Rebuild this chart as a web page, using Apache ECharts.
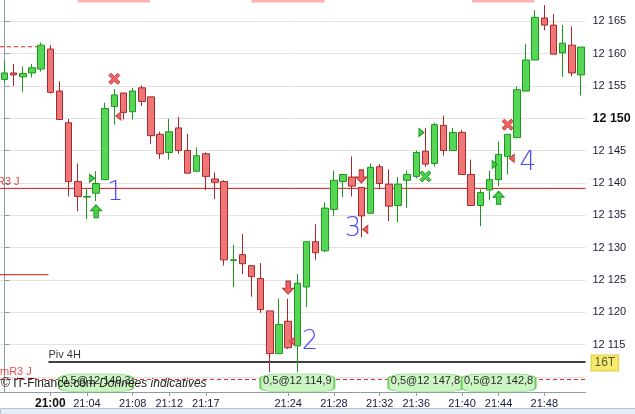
<!DOCTYPE html>
<html><head><meta charset="utf-8">
<script src="https://cdn.jsdelivr.net/npm/echarts@6/dist/echarts.min.js"></script>
<style>html,body{margin:0;padding:0;background:#fff;overflow:hidden}#c{width:635px;height:414px}</style>
</head><body><div id="c"></div>
<script>
// ---------- data ----------
const categories = Array.from({length: 64}, (_, i) => String(i));
const opens  = [12156.0,12157.0,12156.4,12157.0,12157.6,12160.7,12154.2,12149.3,12140.2,12137.8,
                12138.4,12140.5,12151.8,12153.9,12151.0,12154.7,12153.3,12147.5,12144.7,12148.5,
                12145.0,12141.8,12144.5,12140.6,12140.2,12128.0,12128.9,12127.2,12125.2,12120.2,
                12113.6,12118.6,12114.8,12123.9,12130.9,12129.5,12135.9,12140.2,12140.9,12139.3,
                12135.3,12142.5,12139.8,12136.5,12140.4,12141.0,12144.9,12143.0,12148.9,12145.0,
                12147.8,12141.3,12136.5,12138.9,12140.5,12144.1,12147.0,12154.2,12159.0,12165.5,
                12164.4,12160.1,12161.3,12156.7];
const closes = [12157.0,12156.7,12156.9,12157.8,12161.3,12154.0,12149.8,12140.2,12137.9,12137.9,
                12139.9,12151.5,12153.6,12150.9,12154.2,12152.6,12147.3,12144.5,12147.9,12145.0,
                12141.5,12144.2,12141.0,12140.1,12128.1,12128.1,12127.5,12125.5,12120.4,12113.6,
                12118.1,12114.5,12124.5,12130.9,12129.2,12136.1,12140.4,12141.3,12139.5,12134.9,
                12142.4,12139.9,12136.4,12139.8,12141.3,12144.7,12142.9,12149.0,12145.0,12147.8,
                12141.3,12136.5,12138.5,12140.5,12144.4,12147.5,12154.4,12159.0,12165.6,12164.4,
                12159.9,12161.6,12157.0,12161.0];
const lows   = [12155.5,12155.0,12154.1,12156.3,12157.2,12153.8,12149.8,12137.9,12135.6,12134.4,
                12137.2,12140.5,12149.0,12149.8,12149.8,12151.9,12146.0,12143.7,12143.6,12144.5,
                12141.5,12141.8,12138.9,12137.5,12127.2,12123.9,12125.9,12122.4,12119.9,12110.7,
                12113.5,12114.3,12110.7,12120.8,12128.1,12129.3,12134.9,12137.8,12137.9,12131.6,
                12135.2,12139.0,12134.1,12133.9,12136.1,12140.7,12142.5,12142.5,12144.2,12145.0,
                12141.3,12136.5,12133.3,12137.3,12139.5,12141.3,12146.9,12154.2,12159.0,12163.6,
                12159.9,12156.4,12156.5,12153.5];
const highs  = [12158.9,12158.4,12158.0,12158.4,12161.7,12161.3,12155.7,12149.9,12143.0,12139.2,
                12141.8,12152.4,12154.5,12153.9,12154.7,12155.1,12153.3,12147.9,12149.9,12150.2,
                12147.6,12145.5,12144.7,12141.6,12140.4,12130.4,12132.1,12127.2,12127.6,12120.2,
                12122.1,12122.1,12125.9,12130.9,12133.6,12137.0,12141.9,12141.3,12144.1,12139.3,
                12143.0,12142.9,12142.1,12140.9,12141.9,12145.0,12148.5,12149.3,12150.4,12148.5,
                12148.2,12143.6,12139.0,12141.9,12146.4,12147.5,12154.9,12161.5,12166.7,12167.5,
                12166.1,12164.4,12164.2,12161.0];

const timeTickIndex = [5, 9, 14, 18, 22, 31, 36, 41, 45, 50, 54, 59];
const timeTickText  = ['21:00','21:04','21:08','21:12','21:17','21:24','21:28','21:32','21:36','21:40','21:44','21:48'];
const priceTicks  = [12110, 12115, 12120, 12125, 12130, 12135, 12140, 12145, 12150, 12155, 12160, 12165];
const priceLabels = [12115, 12120, 12125, 12130, 12135, 12140, 12145, 12150, 12155, 12160, 12165];

const redCrossIdx = [12, 55],   redCrossPrice = [12156.1, 12149.0];
const greenCrossIdx = [46],     greenCrossPrice = [12141.0];
const upArrowIdx = [10, 54],    upArrowPrice = [12135.6, 12137.7];
const downArrowIdx = [31, 39],  downArrowPrice = [12123.8, 12141.0];
const entryIdx = [10, 46, 54],  entryPrice = [12140.7, 12147.8, 12142.85];
const exitIdx = [12, 31, 39, 55], exitPrice = [12150.35, 12115.5, 12132.8, 12143.8];

const tradeIdx  = [10, 32, 46, 54];
const tradeText = ['0,5@12 149,3', '0,5@12 114,9', '0,5@12 147,8', '0,5@12 142,8'];

const levelNames  = ['R3 J', 'mR3 J', 'Piv 4H', '', ''];
const levelPrices = [12139.15, 12109.6, 12112.3, 12161.05, 12125.8];
const levelFrom   = [-0.5, -0.5, 4.8, -0.5, -0.5];
const levelTo     = [63.5, 63.5, 63.5, 4.3, 4.8];

const noteText  = ['1', '2', '3', '4'];
const noteIdx   = [12.1, 33.4, 38.1, 57.2];
const notePrice = [12138.4, 12115.4, 12132.9, 12143.0];

const pinkFrom = [8, 27, 51.1], pinkTo = [15.9, 35, 57.9];

// ---------- chart ----------
const FONT = 'Liberation Sans';
const TXT = '#1c1c3c';
const AXIS = '#8c9ca8';
const levelColor = ['#dd1111', '#dd2222', '#000000', '#dd2222', '#e01010'];
const levelWidth = [1, 1, 1.4, 1, 1];
const levelDash  = ['solid', [4, 3], 'solid', [4, 3], 'solid'];
const levelLabelOffset = [[-3, -1], [0, -2], [0, -2], [0, 0], [0, 0]];

const crossPath = 'path://M2,0 L5,3 L8,0 L10,2 L7,5 L10,8 L8,10 L5,7 L2,10 L0,8 L3,5 L0,2 Z';
const upPath = 'path://M5,0 L10,5 L7,5 L7,11 L3,11 L3,5 L0,5 Z';
const downPath = 'path://M3,0 L7,0 L7,6 L10,6 L5,11 L0,6 L3,6 Z';
const rightTri = 'path://M0,0 L6,4 L0,8 Z';
const leftTri = 'path://M6,0 L0,4 L6,8 Z';

const zip = (a, b) => a.map((v, i) => [v, b[i]]);
const fmtPrice = n => { const s = String(n); return s.slice(0, 2) + ' ' + s.slice(2); };

const series = [];
levelPrices.forEach((p, k) => {
  series.push({
    type: 'line', xAxisIndex: 1, yAxisIndex: 0, z: 1, silent: true,
    symbol: 'none', animation: false,
    data: [[levelFrom[k], p], [levelTo[k], p]],
    lineStyle: {color: levelColor[k], width: levelWidth[k], type: levelDash[k]}
  });
  if (levelNames[k]) {
    series.push({
      type: 'scatter', xAxisIndex: 1, yAxisIndex: 0, z: 6, silent: true, symbolSize: 0,
      data: [[levelFrom[k], p]],
      label: {show: true, position: 'inside', align: 'left', verticalAlign: 'bottom',
        offset: levelLabelOffset[k], formatter: levelNames[k], fontFamily: FONT, fontSize: 11,
        color: levelColor[k]}
    });
  }
});
series.push({
  type: 'scatter', xAxisIndex: 1, yAxisIndex: 0, z: 6, silent: true, symbolSize: 0,
  data: [[63.5, levelPrices[2]]],
  label: {show: true, position: 'inside', align: 'left', verticalAlign: 'middle', offset: [6, 1],
    formatter: '16T', fontFamily: FONT, fontSize: 12, color: '#333', backgroundColor: '#f6e64a',
    borderColor: '#dcc43a', borderWidth: 1, padding: [2, 3, 1, 3]}
});
series.push({
  type: 'candlestick', xAxisIndex: 0, yAxisIndex: 0, z: 3, barWidth: 7,
  data: opens.map((o, i) => [o, closes[i], lows[i], highs[i]]),
  itemStyle: {color: '#55d655', color0: '#ee7676', borderColor: '#1d961d', borderColor0: '#a8292c', borderWidth: 1}
});
const mk = (idx, pr, sym, size, fill, border, off) => ({
  type: 'scatter', xAxisIndex: 0, yAxisIndex: 0, z: 5, symbol: sym, symbolSize: size,
  symbolOffset: off || [0, 0], data: zip(idx, pr),
  itemStyle: {color: fill, borderColor: border, borderWidth: 1, opacity: 1}
});
series.push(mk(redCrossIdx, redCrossPrice, crossPath, [11, 11], '#ee6464', '#c83c3c'));
series.push(mk(greenCrossIdx, greenCrossPrice, crossPath, [11, 11], '#4cd04c', '#1d961d'));
series.push(mk(upArrowIdx, upArrowPrice, upPath, [11, 13], '#4cd04c', '#1d961d'));
series.push(mk(downArrowIdx, downArrowPrice, downPath, [11, 13], '#ee6464', '#b83030'));
series.push(mk(entryIdx, entryPrice, rightTri, [5, 8], '#4cd04c', '#1d961d', [-4, 0]));
series.push(mk(exitIdx, exitPrice, leftTri, [5, 8], '#ee6464', '#c03838', [4, 0]));
series.push({
  type: 'scatter', xAxisIndex: 1, yAxisIndex: 0, z: 7, silent: true, symbolSize: 0,
  data: noteIdx.map((v, i) => ({value: [v, notePrice[i]], name: noteText[i]})),
  label: {show: true, position: 'inside', formatter: p => p.name, fontFamily: 'DejaVu Sans',
    fontSize: 26, fontWeight: 200, color: '#1a1aff'}
});
series.push({
  type: 'custom', xAxisIndex: 1, yAxisIndex: 0, z: 2, silent: true,
  data: zip(pinkFrom, pinkTo),
  renderItem: (params, api) => {
    const a = api.coord([api.value(0), 12160]);
    const b = api.coord([api.value(1), 12160]);
    return {type: 'rect', shape: {x: a[0], y: 0, width: b[0] - a[0], height: 2.5}, style: {fill: '#ffb0b0'}};
  }
});
series.push({
  type: 'scatter', xAxisIndex: 0, yAxisIndex: 0, z: 8, silent: true, symbol: 'roundRect',
  symbolSize: [74, 18], data: tradeIdx.map((v, i) => ({value: [v, 12109.05], name: tradeText[i]})),
  itemStyle: {color: '#ccf5c4', borderColor: '#6ccf5c', borderWidth: 1, opacity: 1},
  label: {show: true, position: 'inside', formatter: p => p.name, fontFamily: FONT, fontSize: 11,
    color: '#2a2a2a', offset: [0, -2]}
});

const option = {
  animation: false,
  backgroundColor: '#ffffff',
  grid: {left: 0, top: -2, width: 585.5, height: 394, containLabel: false},
  xAxis: [{
    type: 'category', data: categories, boundaryGap: true, position: 'bottom',
    axisLine: {lineStyle: {color: AXIS, width: 1}},
    axisTick: {show: true, alignWithLabel: true, length: 4, lineStyle: {color: AXIS},
      interval: i => timeTickIndex.includes(i)},
    axisLabel: {interval: i => timeTickIndex.includes(i), margin: 6, fontFamily: FONT, fontSize: 11, color: TXT,
      formatter: (v, i) => { const k = timeTickIndex.indexOf(Number(v)); if (k < 0) return '';
        return k === 0 ? '{b|' + timeTickText[k] + '}' : timeTickText[k]; },
      rich: {b: {fontFamily: FONT, fontSize: 12, fontWeight: 'bold', color: '#111'}}},
    splitLine: {show: false}
  }, {
    type: 'value', min: -0.5, max: 63.5, show: false, gridIndex: 0
  }],
  yAxis: [{
    type: 'value', position: 'right', min: 12107.66, max: 12168.28,
    axisLine: {show: true, lineStyle: {color: AXIS, width: 1}},
    axisTick: {show: true, length: 5, lineStyle: {color: AXIS}, customValues: priceTicks},
    axisLabel: {margin: 7, fontFamily: FONT, fontSize: 11, color: TXT, customValues: priceLabels,
      formatter: v => { const n = Math.round(v); const t = fmtPrice(n);
        return n === 12150 ? '{b|' + t + '}' : t; },
      rich: {b: {fontFamily: FONT, fontSize: 12.5, fontWeight: 'bold', color: '#111'}}},
    splitLine: {show: true, lineStyle: {color: '#e3e3e3', width: 1}}
  }],
  series: series,
  graphic: [
    {type: 'text', left: 1, top: 378, z: 100, silent: true,
      style: {text: '{n|© IT-Finance.com }{i|Données indicatives}',
        rich: {n: {fontFamily: FONT, fontSize: 12, fill: '#222'}, i: {fontFamily: FONT, fontSize: 12, fontStyle: 'italic', fill: '#222'}}}},
    {type: 'rect', left: 0, top: 408, z: 100, silent: true, shape: {width: 635, height: 6},
      style: {fill: '#e2ecf4', stroke: '#b4c6d6', lineWidth: 1}}
  ]
};

const chart = echarts.init(document.getElementById('c'), null, {renderer: 'canvas'});
chart.setOption(option);
</script></body></html>
